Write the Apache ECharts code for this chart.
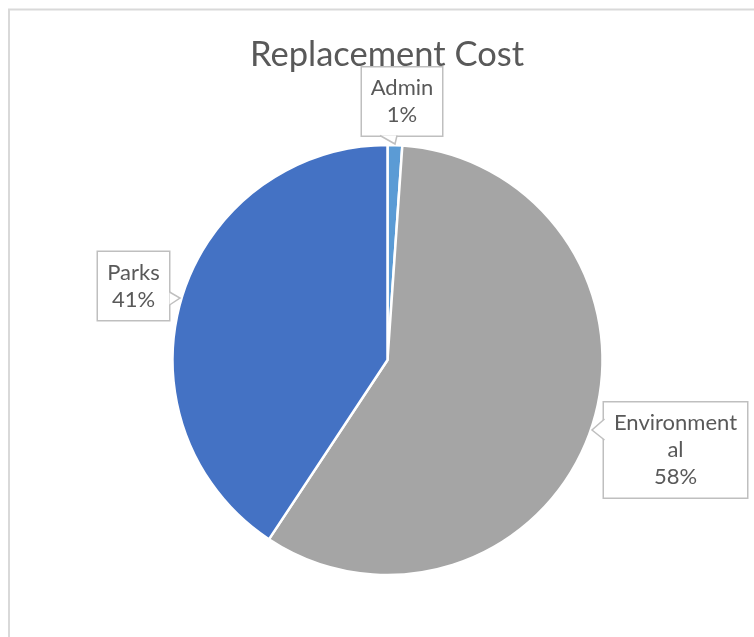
<!DOCTYPE html>
<html>
<head>
<meta charset="utf-8">
<title>Replacement Cost</title>
<script src="https://cdn.jsdelivr.net/npm/echarts@6/dist/echarts.min.js"></script>
<style>
  html, body { margin: 0; padding: 0; background: #ffffff; }
  #chart { width: 754px; height: 637px; }
</style>
</head>
<body>
<div id="chart"></div>
<script>
// Categories and their share of replacement cost (percent)
const categories = ['Admin', 'Environmental', 'Parks'];
const costValues = [1.1, 58.2, 40.7];
const sliceColors = ['#5B9BD5', '#A5A5A5', '#4472C4'];

// Callout placement for each category label (box centre, text width)
const calloutCentres = [[402, 101.5], [675.5, 450], [133.5, 286]];
const calloutWidths = [66, 129, 57];

const textColor = '#595959';
const fontFamily = 'Lato, "Liberation Sans", sans-serif';

// Wrap long names the way the callouts do (11 characters per line)
function wrapName(name) {
  const out = [];
  for (let i = 0; i < name.length; i += 11) out.push(name.slice(i, i + 11));
  return out.join('\n');
}

const pieData = categories.map((name, i) => ({
  name: name,
  value: costValues[i],
  itemStyle: { color: sliceColors[i] },
  label: { width: calloutWidths[i] }
}));

// Pointer triangles attached to each callout box
function pointer(points) {
  return [
    { type: 'polygon', z: 20, shape: { points: points }, style: { fill: '#ffffff' } },
    { type: 'polyline', z: 21, shape: { points: points }, style: { stroke: '#BFBFBF', lineWidth: 1.5, fill: null } }
  ];
}

const chart = echarts.init(document.getElementById('chart'), null, { renderer: 'canvas' });

chart.setOption({
  backgroundColor: '#ffffff',
  animation: false,
  title: {
    text: 'Replacement Cost',
    left: 382,
    textAlign: 'center',
    top: 32,
    textStyle: { color: textColor, fontFamily: fontFamily, fontSize: 34.5, fontWeight: 'normal' }
  },
  graphic: [
    { type: 'rect', z: 0, shape: { x: 9, y: 9.5, width: 800, height: 700 },
      style: { fill: null, stroke: '#D9D9D9', lineWidth: 2 } },
    ...pointer([[380, 135.5], [395, 144], [397, 135.5]]),
    ...pointer([[169.5, 292], [180, 298], [169.5, 305]]),
    ...pointer([[604.5, 419], [592, 430], [604.5, 440]])
  ],
  series: [{
    type: 'pie',
    center: [387.5, 360],
    radius: 215,
    startAngle: 90,
    clockwise: true,
    percentPrecision: 0,
    data: pieData,
    itemStyle: { borderColor: '#ffffff', borderWidth: 2.5 },
    emphasis: { disabled: true },
    labelLine: { show: false },
    label: {
      show: true,
      position: 'outside',
      formatter: p => wrapName(p.name) + '\n' + p.percent + '%',
      color: textColor,
      fontFamily: fontFamily,
      fontSize: 22,
      lineHeight: 27,
      align: 'center',
      backgroundColor: '#ffffff',
      borderColor: '#BFBFBF',
      borderWidth: 1.5,
      padding: [7, 7, 7, 7]
    },
    labelLayout: params => ({
      x: calloutCentres[params.dataIndex][0],
      y: calloutCentres[params.dataIndex][1],
      align: 'center',
      verticalAlign: 'middle',
      hideOverlap: false
    })
  }]
});
</script>
</body>
</html>
